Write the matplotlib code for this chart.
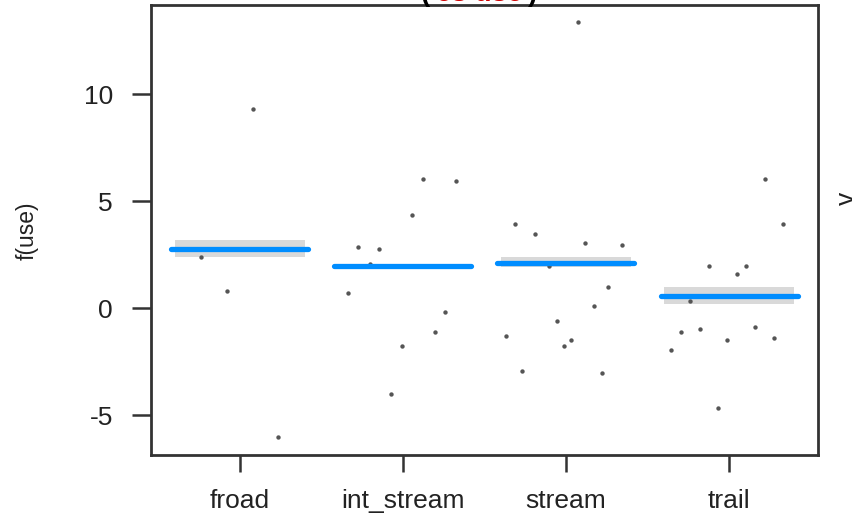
import matplotlib
matplotlib.use("Agg")
import matplotlib.pyplot as plt

plt.rcParams["font.family"] = ["Liberation Sans", "DejaVu Sans"]

# levels of the factor and fitted effect (visreg style)
levels = ["froad", "int_stream", "stream", "trail"]
fit = [2.76, 1.95, 2.13, 0.55]
lower = [2.40, 1.82, 1.92, 0.20]
upper = [3.19, 2.08, 2.40, 0.98]

# partial residuals (x as level position with jitter, y)
res_x = [0.08, -0.236, -0.08, 0.236,
         0.725, 0.855, 0.796, 0.666, 1.126, 1.327, 1.054, 1.256, 1.197, 0.996, 0.926,
         2.073, 1.685, 1.813, 2.115, 2.344, 1.898, 2.259, 2.171, 1.943, 1.635, 2.03, 1.985, 1.73, 2.22,
         3.219, 3.333, 2.874, 3.105, 3.047, 2.758, 2.819, 2.704, 3.161, 2.989, 3.275, 2.646, 2.933]
res_y = [9.32, 2.40, 0.80, -6.02,
         2.84, 2.76, 2.05, 0.71, 6.03, 5.94, 4.36, -0.17, -1.13, -1.77, -3.99,
         13.38, 3.91, 3.46, 3.02, 2.93, 1.95, 0.98, 0.09, -0.60, -1.32, -1.49, -1.77, -2.92, -3.01,
         6.03, 3.91, 1.95, 1.95, 1.60, 0.35, -0.98, -1.13, -0.88, -1.49, -1.41, -1.94, -4.68]

fig = plt.figure(figsize=(8.52, 5.2), dpi=100)
ax = fig.add_axes([0.1772, 0.125, 0.7828, 0.865])

for i in range(len(levels)):
    ax.fill_between([i - 0.40, i + 0.40], lower[i], upper[i], color="#D9D9D9", lw=0, zorder=1)
    ax.plot([i - 0.42, i + 0.42], [fit[i], fit[i]], color="#008DFF", lw=3.8,
            solid_capstyle="round", zorder=3)

ax.scatter(res_x, res_y, s=10, color="#555555", lw=0, zorder=2)

ax.set_xlim(-0.545, 3.545)
ax.set_ylim(-6.86, 14.15)
ax.set_xticks(range(len(levels)))
ax.set_xticklabels(levels)
ax.set_yticks([-5, 0, 5, 10])
ax.set_yticklabels(["-5", "0", "5", "10"])

for s in ax.spines.values():
    s.set_linewidth(2.0)
    s.set_color("#333333")
ax.tick_params(axis="y", length=13.5, width=1.8, pad=14, labelsize=19, colors="#333333",
               labelcolor="#222222")
ax.tick_params(axis="x", length=12.5, width=1.8, pad=12, labelsize=19, colors="#333333",
               labelcolor="#222222")

fig.text(27 / 852, 0.557, "f(use)", rotation=90, ha="center", va="center", fontsize=16.5,
         color="#222222")

# title cut off at top of the screenshot
ty = 1 - 1.0 / 520
fig.text(425 / 852, ty, "(", ha="center", va="baseline", fontsize=20, fontweight="bold",
         color="black")
fig.text(479 / 852, ty, "cs use", ha="center", va="baseline", fontsize=20,
         fontweight="bold", color="#D00000")
fig.text(533 / 852, ty, ")", ha="center", va="baseline", fontsize=20, fontweight="bold",
         color="black")

# neighbouring panel label, partly visible
fig.text(835 / 852, 1 - 198 / 520, "v", rotation=90, ha="left", va="center", fontsize=19,
         color="#222222")

fig.savefig("out.png", dpi=100)
